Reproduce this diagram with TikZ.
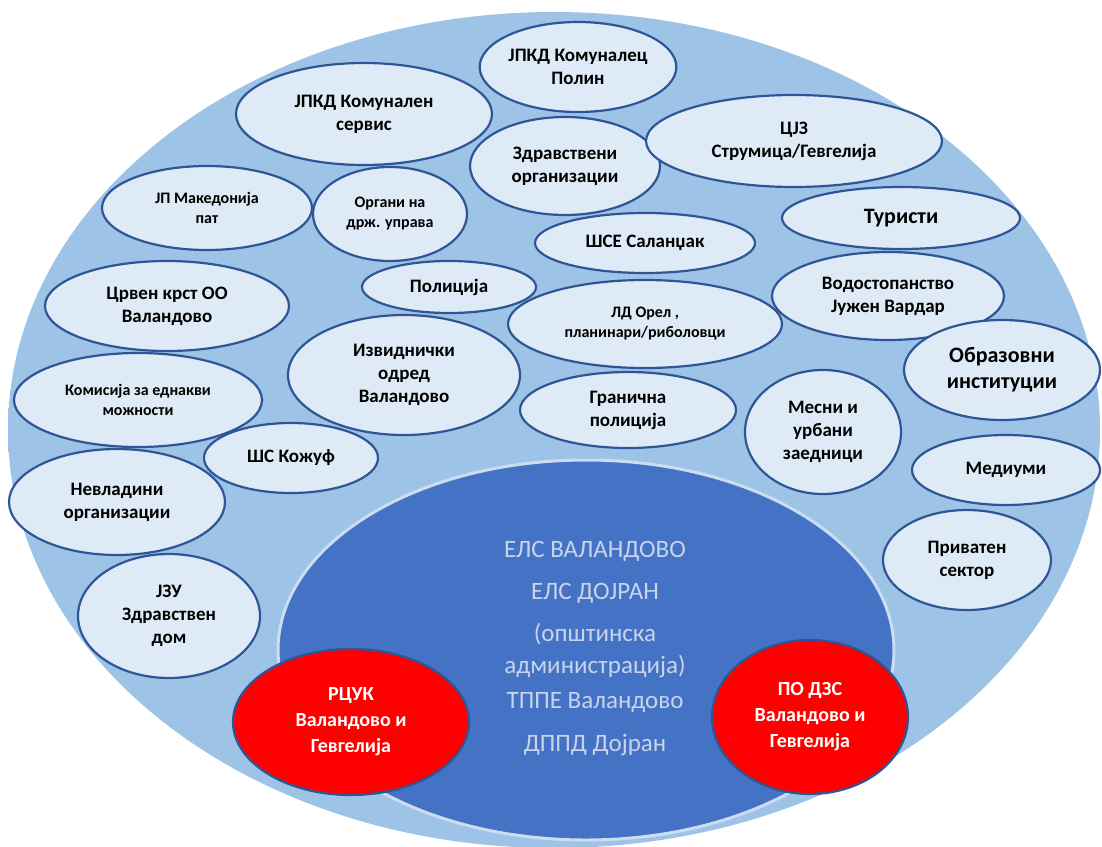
\documentclass[tikz,border=0pt]{standalone}
\usepackage{fontspec}
\setmainfont{Carlito}
\usetikzlibrary{shapes.geometric}
\definecolor{bgmid}{RGB}{157,195,230}
\definecolor{bgedge}{RGB}{214,230,245}
\definecolor{core}{RGB}{68,114,196}
\definecolor{corerim}{RGB}{205,221,241}
\definecolor{bub}{RGB}{222,235,247}
\definecolor{bubline}{RGB}{47,85,151}
\definecolor{coretext}{RGB}{200,212,235}
\definecolor{redfill}{RGB}{255,0,0}
\pgfdeclareradialshading{rimshade}{\pgfpoint{0bp}{0bp}}{color(0bp)=(bgmid); color(45bp)=(bgmid); color(50bp)=(bgedge)}
\begin{document}
\begin{tikzpicture}[x=1pt,y=-1pt,
  bubble/.style={ellipse, draw=bubline, line width=2.2pt, fill=bub, inner sep=0pt, align=center, font=\bfseries\fontsize{19}{23}\selectfont},
  smalltext/.style={font=\bfseries\fontsize{16}{20}\selectfont},
  bigtext/.style={font=\bfseries\fontsize{22}{26}\selectfont},
  redbub/.style={bubble, fill=redfill, text=white, font=\bfseries\fontsize{20}{26}\selectfont},
  coreline/.style={text=coretext, inner sep=0pt, font=\fontsize{25}{30}\selectfont}]
\useasboundingbox (0,0) rectangle (1102,846);
\shade[shading=rimshade] (554,430) ellipse [x radius=546, y radius=418];
\filldraw[fill=core, draw=corerim, line width=3pt] (586,650) ellipse [x radius=308, y radius=190];

\node[bubble, minimum width=176, minimum height=90] (polin) at (578,67) {ЈПКД Комуналец\\Полин};
\node[bubble, minimum width=256, minimum height=102] (servis) at (364,114) {ЈПКД Комунален\\сервис};
\node[bubble, minimum width=190, minimum height=98] (zdrorg) at (565,166) {Здравствени\\организации};
\node[bubble, minimum width=296, minimum height=92] (cjz) at (794,141) {ЦЈЗ\\Струмица/Гевгелија};
\node[bubble, smalltext, minimum width=210, minimum height=84] (pat) at (207,208) {ЈП Македонија\\пат};
\node[bubble, smalltext, minimum width=154, minimum height=94] (organi) at (390,214) {Органи на\\држ. управа};
\node[bubble, bigtext, minimum width=238, minimum height=62] (turisti) at (901,218) {Туристи};
\node[bubble, minimum width=220, minimum height=60] (salandzak) at (645,243) {ШСЕ Саланџак};
\node[bubble, minimum width=232, minimum height=88] (vodo) at (888,296) {Водостопанство\\Јужен Вардар};
\node[bubble, minimum width=244, minimum height=90] (krst) at (167,306) {Црвен крст ОО\\Валандово};
\node[bubble, minimum width=174, minimum height=52] (policija) at (449,287) {Полиција};
\node[bubble, smalltext, minimum width=274, minimum height=88] (orel) at (645,324) {ЛД Орел ,\\планинари/риболовци};
\node[bubble, minimum width=232, minimum height=120] (izvid) at (404,375) {Извиднички\\одред\\Валандово};
\node[bubble, smalltext, minimum width=248, minimum height=94] (komisija) at (138,400) {Комисија за еднакви\\можности};
\node[bubble, bigtext, minimum width=196, minimum height=100] (obraz) at (1002,370) {Образовни\\институции};
\node[bubble, minimum width=216, minimum height=76] (granicna) at (628,410) {Гранична\\полиција};
\node[bubble, minimum width=156, minimum height=124] (mesni) at (823,432) {Месни и\\урбани\\заедници};
\node[bubble, minimum width=174, minimum height=70] (kozuf) at (291,458) {ШС Кожуф};
\node[bubble, minimum width=188, minimum height=70] (mediumi) at (1006,470) {Медиуми};
\node[bubble, minimum width=216, minimum height=106] (nvo) at (117,502) {Невладини\\организации};
\node[bubble, minimum width=168, minimum height=100] (privaten) at (967,560) {Приватен\\сектор};
\node[bubble, minimum width=182, minimum height=124] (jzu) at (169,616) {ЈЗУ\\Здравствен\\дом};

\node[coreline] (c1) at (595,551) {ЕЛС ВАЛАНДОВО};
\node[coreline] (c2) at (595,593) {ЕЛС ДОЈРАН};
\node[coreline] (c3) at (595,634) {(општинска};
\node[coreline] (c4) at (595,666) {администрација)};
\node[coreline] (c5) at (595,703) {ТППЕ Валандово};
\node[coreline] (c6) at (595,745) {ДППД Дојран};

\node[redbub, minimum width=236, minimum height=146] (rcuk) at (351,722) {РЦУК\\Валандово и\\Гевгелија};
\node[redbub, minimum width=196, minimum height=154] (podzs) at (810,717) {ПО ДЗС\\Валандово и\\Гевгелија};
\end{tikzpicture}
\end{document}
